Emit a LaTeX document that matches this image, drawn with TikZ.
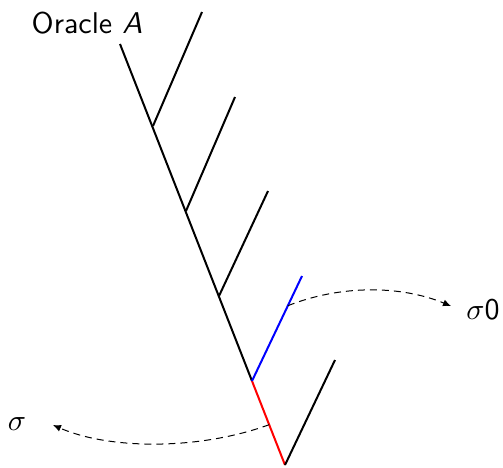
\documentclass[tikz,border=0pt]{standalone}
\usepackage{graphicx}
\usetikzlibrary{calc,arrows.meta}
\newcommand{\bigtxt}[1]{\scalebox{3}{#1}}
\begin{document}
\begin{tikzpicture}[x=1pt,y=-1pt,
  treeline/.style={line width=2pt},
  hop/.style={line width=1pt,dash pattern=on 7pt off 5pt,-{Latex[length=8pt,width=7pt]}},
  lbl/.style={font=\fontsize{10}{12}\selectfont\sffamily,inner sep=0pt}]
\useasboundingbox (0,0) rectangle (503,467);
% main spine
\coordinate (top) at (120,44);
\coordinate (j1) at (153,126);
\coordinate (j2) at (186,211);
\coordinate (j3) at (219,296);
\coordinate (j4) at (252,381);
\coordinate (bot) at (285,465);
% branch tips
\coordinate (t1) at (202,12);
\coordinate (t2) at (235,97);
\coordinate (t3) at (268,191);
\coordinate (t4) at (302,276);
\coordinate (t5) at (335,360);
\draw[treeline] (top) -- (j4);
\draw[treeline,red] (j4) -- (bot);
\draw[treeline] (j1) -- (t1);
\draw[treeline] (j2) -- (t2);
\draw[treeline] (j3) -- (t3);
\draw[treeline,blue] (j4) -- (t4);
\draw[treeline] (bot) -- (t5);
% labels
\node[lbl] (oracle) at (87,23) {\bigtxt{Oracle \textsl{A}}};
\node[lbl] (s0) at (483,310) {\bigtxt{$\sigma$0}};
\node[lbl] (s) at (17,424) {\bigtxt{$\sigma$}};
% arrows
\coordinate (m4) at ($(j4)!0.717!(t4)$);
\coordinate (mr) at ($(j4)!0.52!(bot)$);
\coordinate (e0) at (451,306);
\coordinate (e1) at (53,425);
\draw[hop] (m4) .. controls (340,285) and (400,285) .. (e0);
\draw[hop] (mr) .. controls (200,450) and (110,450) .. (e1);
\end{tikzpicture}
\end{document}
